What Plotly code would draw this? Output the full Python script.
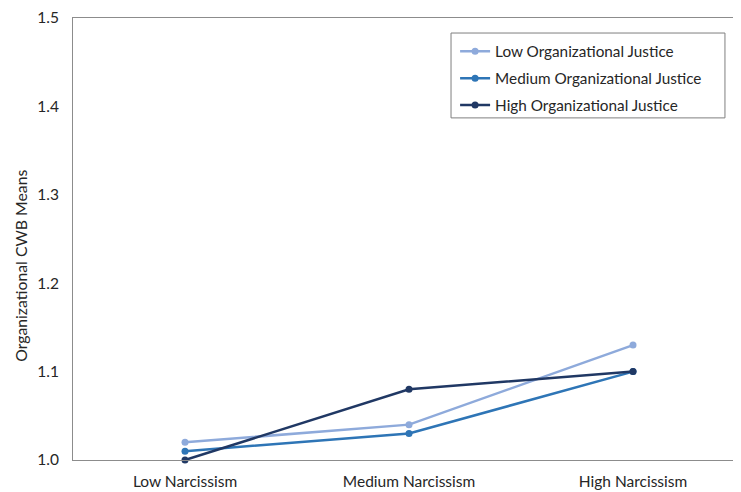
import plotly.graph_objects as go

categories = ["Low Narcissism", "Medium Narcissism", "High Narcissism"]
low_oj = [1.02, 1.04, 1.13]
medium_oj = [1.01, 1.03, 1.10]
high_oj = [1.00, 1.08, 1.10]
series_names = ["Low Organizational Justice", "Medium Organizational Justice", "High Organizational Justice"]
colors = ["#8eaadb", "#2e75b6", "#203864"]
y_ticks = [1.0, 1.1, 1.2, 1.3, 1.4, 1.5]

fig = go.Figure()
for i, (name, vals, c) in enumerate(zip(series_names, [low_oj, medium_oj, high_oj], colors)):
    fig.add_trace(go.Scatter(
        x=categories, y=vals, name=name, mode="lines+markers",
        line=dict(color=c, width=2.5), marker=dict(color=c, size=7),
        cliponaxis=False, legendgroup=f"g{i}",
    ))

font_family = "Lato, 'Open Sans', sans-serif"
fig.update_layout(
    width=733, height=484,
    margin=dict(l=65, r=0, t=10, b=32),
    paper_bgcolor="white", plot_bgcolor="white",
    font=dict(family=font_family, size=15.5, color="#262626"),
    showlegend=True,
    legend=dict(
        x=0.572, y=0.962, xanchor="left", yanchor="top",
        borderwidth=0, bgcolor="rgba(0,0,0,0)",
        font=dict(size=15.3, color="#262626"),
        itemwidth=30, tracegroupgap=4,
    ),
    shapes=[dict(
        type="rect", xref="paper", yref="paper",
        x0=0.5659, x1=0.976, y0=0.774, y1=0.966,
        line=dict(color="#7f7f7f", width=1), fillcolor="white", layer="below",
    )],
    xaxis=dict(
        showline=True, linecolor="#8c8c8c", linewidth=1, mirror=True,
        showgrid=False, zeroline=False, automargin=False,
        ticks="outside", ticklen=7, tickcolor="rgba(0,0,0,0)",
        tickfont=dict(size=15.5, color="#262626"),
        range=[-0.5, 2.482],
    ),
    yaxis=dict(
        range=[1.0, 1.5], tickvals=y_ticks, ticktext=[f"{v:.1f}" for v in y_ticks],
        showline=True, linecolor="#8c8c8c", linewidth=1,
        showgrid=False, zeroline=False, automargin=False,
        ticks="outside", ticklen=10, tickcolor="rgba(0,0,0,0)",
        tickfont=dict(size=15.5, color="#262626"),
    ),
    annotations=[dict(
        text="Organizational CWB Means", xref="paper", yref="paper",
        x=-0.078, y=0.439, xanchor="center", yanchor="middle", textangle=-90,
        showarrow=False, font=dict(size=15.8, color="#262626"),
    )],
)

fig.write_html("out.html")
